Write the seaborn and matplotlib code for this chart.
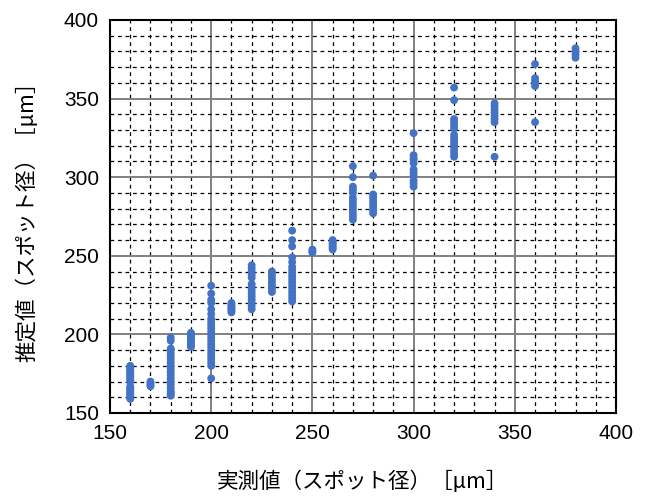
import matplotlib
matplotlib.use("Agg")
import matplotlib.pyplot as plt
from matplotlib.ticker import MultipleLocator
import seaborn as sns
import pandas as pd

# ---- data ----
measured = {
    160: [159, 160, 161, 162, 163, 164, 165, 166, 167, 170, 171, 172, 173, 174, 175, 176, 177, 178, 179, 180],
    170: [167, 168, 169, 170],
    180: [161, 162, 163, 164, 166, 168, 170, 172, 174, 176, 178, 180, 182, 184, 186, 188, 190, 191, 196, 198],
    190: [192, 193, 194, 195, 196, 197, 198, 199, 200, 201],
    200: [172, 180, 182, 184, 186, 188, 190, 192, 194, 196, 198, 200, 202, 204, 206, 208, 210, 213, 216, 220, 222, 226, 231],
    210: [214, 215, 216, 217, 218, 219, 220],
    220: [216, 218, 220, 222, 224, 226, 228, 230, 232, 236, 238, 240, 242, 244],
    230: [227, 229, 231, 233, 235, 237, 239, 240],
    240: [221, 223, 225, 227, 229, 231, 233, 235, 237, 239, 241, 243, 246, 249, 256, 260, 266],
    250: [252, 253, 254],
    260: [254, 255, 256, 257, 258, 259, 260],
    270: [273, 275, 277, 279, 281, 283, 285, 287, 290, 292, 294, 300, 307],
    280: [277, 279, 281, 283, 285, 287, 289, 301],
    300: [294, 296, 298, 301, 303, 305, 309, 311, 312, 314, 328],
    320: [313, 315, 317, 319, 321, 323, 325, 327, 331, 333, 335, 337, 349, 357],
    340: [313, 335, 337, 339, 341, 343, 345, 347],
    360: [335, 358, 360, 361, 363, 372],
    380: [376, 378, 380, 382],
}

x_ticks = [150, 200, 250, 300, 350, 400]
y_ticks = [150, 200, 250, 300, 350, 400]
x_label = "実測値（スポット径）［μm］"
y_label = "推定値（スポット径）［μm］"

rows = [(x, y) for x, ys in measured.items() for y in ys]
df = pd.DataFrame(rows, columns=["actual", "estimate"])

sns.set_style("white")
plt.rcParams['font.family'] = ['Noto Sans CJK JP', 'DejaVu Sans']
plt.rcParams['text.color'] = 'black'
plt.rcParams['axes.labelcolor'] = 'black'
plt.rcParams['xtick.color'] = 'black'
plt.rcParams['ytick.color'] = 'black'

fig = plt.figure(figsize=(6.48, 4.97), dpi=100)
ax = fig.add_axes([110/648, 1-413/497, 506/648, 393/497])

sns.scatterplot(data=df, x="actual", y="estimate", ax=ax, color="#4472C4",
                s=32, linewidth=0, edgecolor="none", zorder=3)

ax.set_xlim(150, 400)
ax.set_ylim(150, 400)
ax.set_xticks(x_ticks)
ax.set_yticks(y_ticks)
ax.xaxis.set_minor_locator(MultipleLocator(10))
ax.yaxis.set_minor_locator(MultipleLocator(10))

ax.grid(which="minor", color="black", linestyle=(0, (3, 3)), linewidth=0.9, zorder=1)
ax.grid(which="major", color="#808080", linestyle="-", linewidth=1.4, zorder=2)
ax.set_axisbelow(True)

for sp in ax.spines.values():
    sp.set_color("black")
    sp.set_linewidth(1.5)
    sp.set_visible(True)

tick_font = ['Liberation Sans Narrow', 'Liberation Sans', 'DejaVu Sans']
ax.tick_params(which="both", length=0, labelsize=15, pad=8, colors="black")
for lab in ax.get_xticklabels() + ax.get_yticklabels():
    lab.set_family(tick_font)
    lab.set_color("black")

ax.set_xlabel(x_label, fontsize=15.5, labelpad=20, color="black")
ax.set_ylabel(y_label, fontsize=15.5, labelpad=18, color="black")

fig.savefig("out.png", dpi=100)
